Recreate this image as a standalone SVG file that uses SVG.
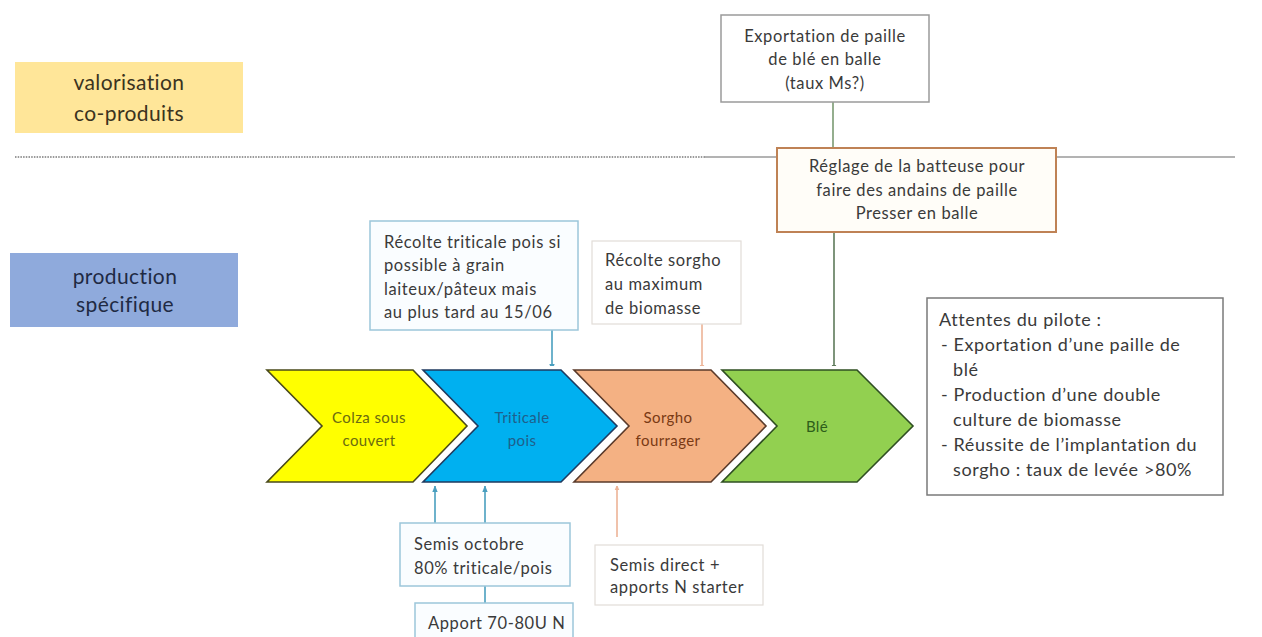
<svg xmlns="http://www.w3.org/2000/svg" width="1262" height="637" viewBox="0 0 1262 637">
<defs>
<style>
text{font-family:Lato,"Liberation Sans",sans-serif;fill:#3a3a3a}
.lbl{font-size:21px;letter-spacing:0.4px;text-anchor:middle}
.box{font-size:16.5px;letter-spacing:0.6px}
.mid{text-anchor:middle}
.chev{stroke-width:1.6;stroke-linejoin:miter}
.halo{fill:none;stroke:#fff;stroke-width:8;stroke-linejoin:miter}
.ct{font-size:15px;letter-spacing:0.4px;text-anchor:middle}
.att{font-size:18px;letter-spacing:0.6px}
.conn{fill:none;stroke-width:1.6}
</style>
<marker id="ahG" viewBox="0 0 10 10" refX="9" refY="5" markerWidth="6" markerHeight="6" orient="auto-start-reverse" markerUnits="userSpaceOnUse"><path d="M0,1 L10,5 L0,9 z" fill="#5E7A5A"/></marker>
<marker id="ahB" viewBox="0 0 10 10" refX="9" refY="5" markerWidth="7" markerHeight="7" orient="auto-start-reverse" markerUnits="userSpaceOnUse"><path d="M0,1 L10,5 L0,9 z" fill="#4A9FBF"/></marker>
<marker id="ahO" viewBox="0 0 10 10" refX="9" refY="5" markerWidth="6" markerHeight="6" orient="auto-start-reverse" markerUnits="userSpaceOnUse"><path d="M0,1 L10,5 L0,9 z" fill="#EDB396"/></marker>
</defs>

<g id="divider">
<line x1="15" y1="157" x2="705" y2="157" stroke="#9a9a9a" stroke-width="2" stroke-dasharray="1.5 1.2"/>
<line x1="705" y1="157" x2="1235" y2="157" stroke="#9a9a9a" stroke-width="1.6"/>
</g>

<g id="lane-valorisation">
<rect x="15" y="62" width="228" height="71" fill="#FFE699"/>
<text class="lbl" x="129" y="90" style="fill:#3b3320">valorisation</text>
<text class="lbl" x="129" y="121" style="fill:#3b3320">co-produits</text>
</g>

<g id="lane-production">
<rect x="10" y="253" width="228" height="74" fill="#8FAADC"/>
<text class="lbl" x="125" y="284" style="fill:#1f2a44">production</text>
<text class="lbl" x="125" y="312" style="fill:#1f2a44">spécifique</text>
</g>

<g id="connectors">
<line class="conn" x1="833" y1="102" x2="833" y2="148" stroke="#7A9A72"/>
<line class="conn" x1="834" y1="232" x2="834" y2="370" stroke="#5E7A5A" marker-end="url(#ahG)"/>
<line class="conn" x1="552" y1="330" x2="552" y2="370" stroke="#4A9FBF" marker-end="url(#ahB)"/>
<line class="conn" x1="702" y1="324" x2="702" y2="370" stroke="#EDB396" stroke-width="1.2" marker-end="url(#ahO)"/>
<line class="conn" x1="435" y1="523" x2="435" y2="486" stroke="#4A9FBF" marker-end="url(#ahB)"/>
<line class="conn" x1="485" y1="523" x2="485" y2="486" stroke="#4A9FBF" marker-end="url(#ahB)"/>
<line class="conn" x1="485" y1="586" x2="485" y2="603" stroke="#4A9FBF"/>
<line class="conn" x1="617" y1="537" x2="617" y2="485" stroke="#EDB396" stroke-width="1.2" marker-end="url(#ahO)"/>
</g>

<g id="exportation">
<rect x="721" y="15" width="208" height="87" fill="#fff" stroke="#9a9a9a" stroke-width="1.5"/>
<text class="box mid" x="825" y="42">Exportation de paille</text>
<text class="box mid" x="825" y="65">de blé en balle</text>
<text class="box mid" x="825" y="89">(taux Ms?)</text>
</g>

<g id="reglage">
<rect x="777" y="148" width="279" height="84" fill="#FFFDF8" stroke="#BF8255" stroke-width="2"/>
<text class="box mid" x="917" y="172">Réglage de la batteuse pour</text>
<text class="box mid" x="917" y="196">faire des andains de paille</text>
<text class="box mid" x="917" y="219">Presser en balle</text>
</g>

<g id="recolte-triticale">
<rect x="370" y="221" width="208" height="109" fill="#FAFDFF" stroke="#9CC6DA" stroke-width="1.5"/>
<text class="box" x="384" y="248">Récolte triticale pois si</text>
<text class="box" x="384" y="271">possible à grain</text>
<text class="box" x="384" y="295">laiteux/pâteux  mais</text>
<text class="box" x="384" y="318">au plus tard au 15/06</text>
</g>

<g id="recolte-sorgho">
<rect x="592" y="241" width="149" height="83" fill="#fff" stroke="#e2ddd8" stroke-width="1.2"/>
<text class="box" x="605" y="266">Récolte sorgho</text>
<text class="box" x="605" y="290">au maximum</text>
<text class="box" x="605" y="314">de biomasse</text>
</g>

<g id="colza">
<path class="halo" d="M267,370 L413,370 L467,426 L413,482 L267,482 L322,426 Z"/>
<path class="chev" d="M267,370 L413,370 L467,426 L413,482 L267,482 L322,426 Z" fill="#FFFF00" stroke="#4a4a1a"/>
<text class="ct" x="369" y="423" style="fill:#6b6b10">Colza sous</text>
<text class="ct" x="369" y="446" style="fill:#6b6b10">couvert</text>
</g>

<g id="triticale">
<path class="halo" d="M423,370 L561,370 L617,426 L561,482 L423,482 L478,426 Z"/>
<path class="chev" d="M423,370 L561,370 L617,426 L561,482 L423,482 L478,426 Z" fill="#00B0F0" stroke="#1F3A5F"/>
<text class="ct" x="522" y="423" style="fill:#1F5F8B">Triticale</text>
<text class="ct" x="522" y="446" style="fill:#1F5F8B">pois</text>
</g>

<g id="sorgho">
<path class="halo" d="M574,370 L711,370 L766,426 L711,482 L574,482 L629,426 Z"/>
<path class="chev" d="M574,370 L711,370 L766,426 L711,482 L574,482 L629,426 Z" fill="#F4B183" stroke="#5a3a2a"/>
<text class="ct" x="668" y="423" style="fill:#7a3a14">Sorgho</text>
<text class="ct" x="668" y="446" style="fill:#7a3a14">fourrager</text>
</g>

<g id="ble">
<path class="halo" d="M722,370 L857,370 L913,426 L857,482 L722,482 L777,426 Z"/>
<path class="chev" d="M722,370 L857,370 L913,426 L857,482 L722,482 L777,426 Z" fill="#92D050" stroke="#2F4F22"/>
<text class="ct" x="817" y="432" style="fill:#2E5E1A">Blé</text>
</g>

<g id="attentes">
<rect x="927" y="298" width="296" height="197" fill="#fff" stroke="#7a7a7a" stroke-width="1.5"/>
<text class="att" x="939" y="326">Attentes du pilote :</text>
<text class="att" x="941" y="351">-  Exportation d’une paille de</text>
<text class="att" x="953" y="376">blé</text>
<text class="att" x="941" y="401">-  Production d’une double</text>
<text class="att" x="953" y="426">culture de biomasse</text>
<text class="att" x="941" y="451">-  Réussite de l’implantation du</text>
<text class="att" x="953" y="476">sorgho : taux de levée &gt;80%</text>
</g>

<g id="semis-octobre">
<rect x="400" y="523" width="170" height="63" fill="#FAFDFF" stroke="#9CC6DA" stroke-width="1.5"/>
<text class="box" x="414" y="550">Semis octobre</text>
<text class="box" x="414" y="574">80% triticale/pois</text>
</g>

<g id="apport">
<rect x="415" y="603" width="158" height="40" fill="#FAFDFF" stroke="#9CC6DA" stroke-width="1.5"/>
<text class="box" x="428" y="629">Apport  70-80U N</text>
</g>

<g id="semis-direct">
<rect x="595" y="545" width="168" height="60" fill="#fff" stroke="#e2ddd8" stroke-width="1.2"/>
<text class="box" x="610" y="571">Semis direct +</text>
<text class="box" x="610" y="593">apports N starter</text>
</g>
</svg>
